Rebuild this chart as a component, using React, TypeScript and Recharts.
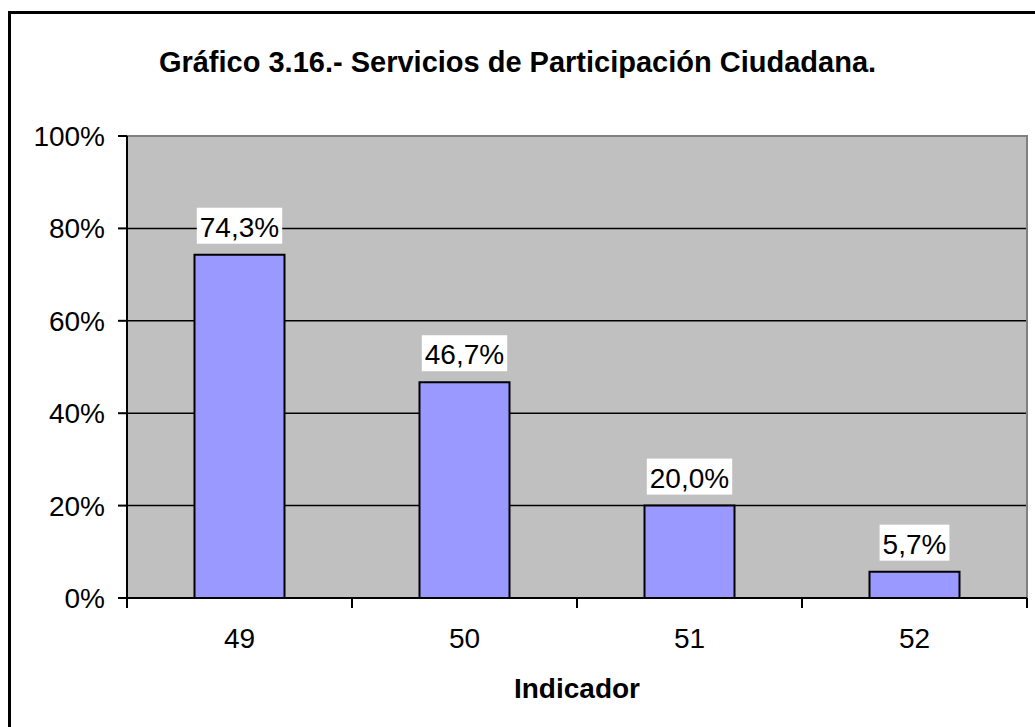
import React from 'react';
import { BarChart, Bar, XAxis, YAxis, CartesianGrid, ReferenceArea, LabelList } from 'recharts';

const categories = ['49', '50', '51', '52'];
const values = [74.3, 46.7, 20.0, 5.7];
const yTicks = [0, 20, 40, 60, 80, 100];
const gridValues = [20, 40, 60, 80];

const data = categories.map((name, i) => ({ name, value: values[i] }));

const FONT = '"Liberation Sans", Arial, sans-serif';

// rough Arial widths, in em
const charW: Record<string, number> = { ',': 0.278, '.': 0.278, '%': 0.889 };
const textWidth = (s: string, size: number) =>
  s.split('').reduce((w, c) => w + (charW[c] ?? 0.556), 0) * size;

const fmt = (v: number) => v.toFixed(1).replace('.', ',') + '%';

const renderLabel = (props: any) => {
  const { x, y, width, value } = props;
  const cx = x + width / 2;
  const txt = fmt(value);
  const w = textWidth(txt, 28);
  return (
    <g>
      <rect x={cx - w / 2 - 3} y={y - 47} width={w + 6} height={36} fill="#ffffff" />
      <text x={cx} y={y - 18} textAnchor="middle" fontSize={28} fontFamily={FONT} fill="#000">
        {txt}
      </text>
    </g>
  );
};

const XTick = (props: any) => {
  const { x, y, payload, index, visibleTicksCount } = props;
  const half = payload.offset ?? 0;
  return (
    <g>
      <line x1={x - half} y1={y} x2={x - half} y2={y + 10} stroke="#000" strokeWidth={2} />
      {index === visibleTicksCount - 1 && (
        <line x1={x + half} y1={y} x2={x + half} y2={y + 10} stroke="#000" strokeWidth={2} />
      )}
      <text x={x} y={y + 50} textAnchor="middle" fontSize={28} fontFamily={FONT} fill="#000">
        {payload.value}
      </text>
    </g>
  );
};

export default function App() {
  return (
    <div
      style={{
        position: 'absolute',
        left: 0,
        top: 0,
        width: 1035,
        height: 727,
        overflow: 'hidden',
        background: '#fff',
        fontFamily: FONT,
      }}
    >
      <div
        style={{
          position: 'absolute',
          left: 8,
          top: 11,
          width: 1040,
          height: 740,
          border: '3px solid #000',
          boxSizing: 'border-box',
        }}
      />
      <div
        style={{
          position: 'absolute',
          left: 0,
          top: 42,
          width: 1035,
          textAlign: 'center',
          fontSize: 29,
          fontWeight: 'bold',
          lineHeight: '40px',
        }}
      >
        Gráfico 3.16.- Servicios de Participación Ciudadana.
      </div>
      <div style={{ position: 'absolute', left: 0, top: 0 }}>
        <BarChart
          width={1035}
          height={727}
          data={data}
          margin={{ top: 136, right: 8, bottom: 29, left: 67 }}
          barCategoryGap="30%"
        >
          <CartesianGrid
            vertical={false}
            horizontalValues={gridValues}
            stroke="#000"
            strokeWidth={1.5}
            fill="#c0c0c0"
            fillOpacity={1}
          />
          <ReferenceArea y1={0} y2={100} fill="none" stroke="#808080" strokeWidth={2} />
          <XAxis
            dataKey="name"
            height={100}
            tickLine={false}
            tickSize={0}
            tickMargin={0}
            axisLine={{ stroke: '#000', strokeWidth: 2 }}
            tick={<XTick />}
            interval={0}
            label={{
              value: 'Indicador',
              position: 'insideBottom',
              offset: 0,
              fontSize: 28,
              fontWeight: 'bold',
              fill: '#000',
              fontFamily: FONT,
            }}
          />
          <YAxis
            width={60}
            domain={[0, 100]}
            ticks={yTicks}
            tickFormatter={(v: number) => `${v}%`}
            tickSize={9}
            tickMargin={13}
            tickLine={{ stroke: '#000', strokeWidth: 2 }}
            axisLine={{ stroke: '#000', strokeWidth: 2 }}
            tick={{ fontSize: 28, fill: '#000', fontFamily: FONT }}
          />
          <Bar dataKey="value" fill="#9999ff" stroke="#000" strokeWidth={2} isAnimationActive={false}>
            <LabelList dataKey="value" content={renderLabel} />
          </Bar>
        </BarChart>
      </div>
    </div>
  );
}
